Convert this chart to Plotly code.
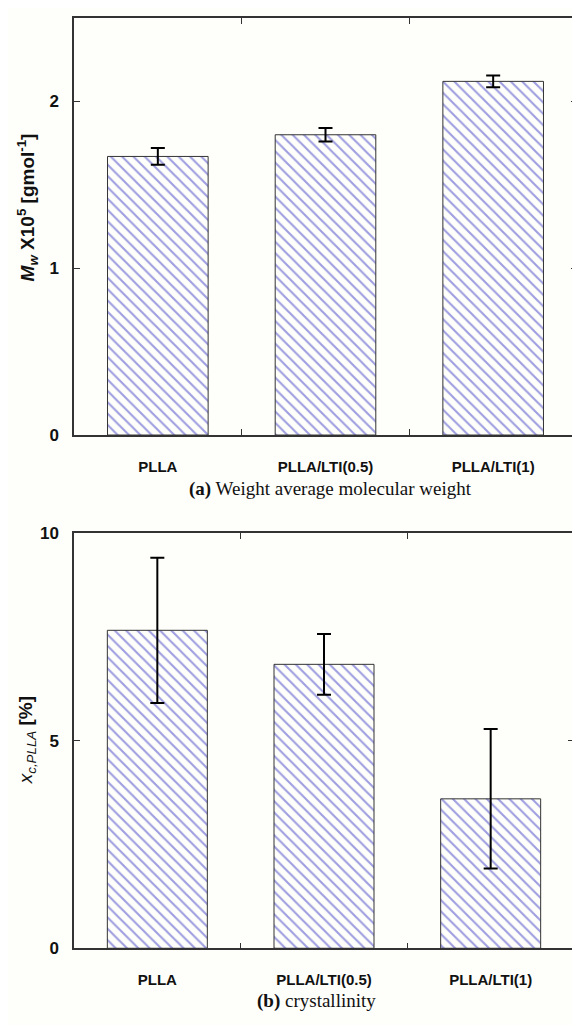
import plotly.graph_objects as go

categories = ["PLLA", "PLLA/LTI(0.5)", "PLLA/LTI(1)"]
mw_values = [1.67, 1.80, 2.12]
mw_errors = [0.05, 0.04, 0.035]
xc_values = [7.66, 6.84, 3.60]
xc_errors = [1.75, 0.73, 1.68]
mw_ticks = [0, 1, 2]
xc_ticks = [0, 5, 10]

# the page body has an 8px default margin: lay out in window pixels minus that offset
OFF = 8
W, H = 580 - OFF, 1025 - OFF
BG = "#fefefa"
AX = "#333333"
HATCH = "#3d3dc8"

def px_x(p):
    return (p - OFF) / W

def px_y(p):
    return 1 - (p - OFF) / H

bar_style = dict(
    color=BG,
    line=dict(color=AX, width=1),
    pattern=dict(shape="\\", fgcolor=HATCH, bgcolor=BG, size=8, solidity=0.26),
)
err_style = dict(type="data", color="black", thickness=2, width=7)

fig = go.Figure()
fig.add_trace(go.Bar(x=categories, y=mw_values, width=0.6, marker=bar_style,
                     error_y=dict(array=mw_errors, **err_style),
                     xaxis="x", yaxis="y", showlegend=False))
fig.add_trace(go.Bar(x=categories, y=xc_values, width=0.6, marker=bar_style,
                     error_y=dict(array=xc_errors, **err_style),
                     xaxis="x2", yaxis="y2", showlegend=False))

xcommon = dict(type="category", showline=True, linecolor=AX, linewidth=1.5, mirror="ticks",
               ticks="inside", ticklen=6, tickcolor=AX, tickwidth=1.2, tickson="boundaries",
               showgrid=False, zeroline=False, ticklabelstandoff=17,
               tickfont=dict(family="Liberation Sans, Arial", size=15, color="#111"),
               range=[-0.5, 2.5])
ycommon = dict(showline=True, linecolor=AX, linewidth=1.5, mirror="ticks",
               ticks="inside", ticklen=6, tickcolor=AX, tickwidth=1.2,
               showgrid=False, zeroline=False, ticklabelstandoff=10,
               tickfont=dict(family="Liberation Sans, Arial", size=17, color="#111"))

fig.update_layout(
    width=W, height=H,
    margin=dict(l=0, r=0, t=0, b=0),
    paper_bgcolor=BG, plot_bgcolor=BG,
    bargap=0.4,
    xaxis=dict(domain=[px_x(74), px_x(577)], anchor="y",
               tickvals=categories, ticktext=["<b>%s</b>" % c for c in categories], **xcommon),
    yaxis=dict(domain=[px_y(434), px_y(9)], anchor="x", range=[0, 2.5],
               tickvals=mw_ticks, ticktext=["<b>%d</b>" % t for t in mw_ticks], **ycommon),
    xaxis2=dict(domain=[px_x(74), px_x(574)], anchor="y2",
                tickvals=categories, ticktext=["<b>%s</b>" % c for c in categories], **xcommon),
    yaxis2=dict(domain=[px_y(957), px_y(534)], anchor="x2", range=[0, 10],
                tickvals=xc_ticks, ticktext=["<b>%d</b>" % t for t in xc_ticks], **ycommon),
)

fig.add_annotation(x=px_x(27), y=px_y(202), xref="paper", yref="paper", textangle=-90,
                   xanchor="center", yanchor="middle", showarrow=False,
                   text="<b><i>M</i><sub><i>w</i></sub> X10<sup>5</sup> [gmol<sup>-1</sup>]</b>",
                   font=dict(family="Liberation Sans, Arial", size=19, color="#111"))
fig.add_annotation(x=px_x(27), y=px_y(745), xref="paper", yref="paper", textangle=-90,
                   xanchor="center", yanchor="middle", showarrow=False,
                   text="<i>x</i><sub><i>c,PLLA</i></sub> <b>[%]</b>",
                   font=dict(family="Liberation Sans, Arial", size=19, color="#111"))
fig.add_annotation(x=px_x(330), y=px_y(489), xref="paper", yref="paper",
                   xanchor="center", yanchor="middle", showarrow=False,
                   text="<b>(a)</b> Weight average molecular weight",
                   font=dict(family="Liberation Serif, Times New Roman", size=19, color="#111"))
fig.add_annotation(x=px_x(316), y=px_y(1011), xref="paper", yref="paper",
                   xanchor="center", yanchor="middle", showarrow=False,
                   text="<b>(b)</b> crystallinity",
                   font=dict(family="Liberation Serif, Times New Roman", size=19, color="#111"))

fig.write_html("out.html")
